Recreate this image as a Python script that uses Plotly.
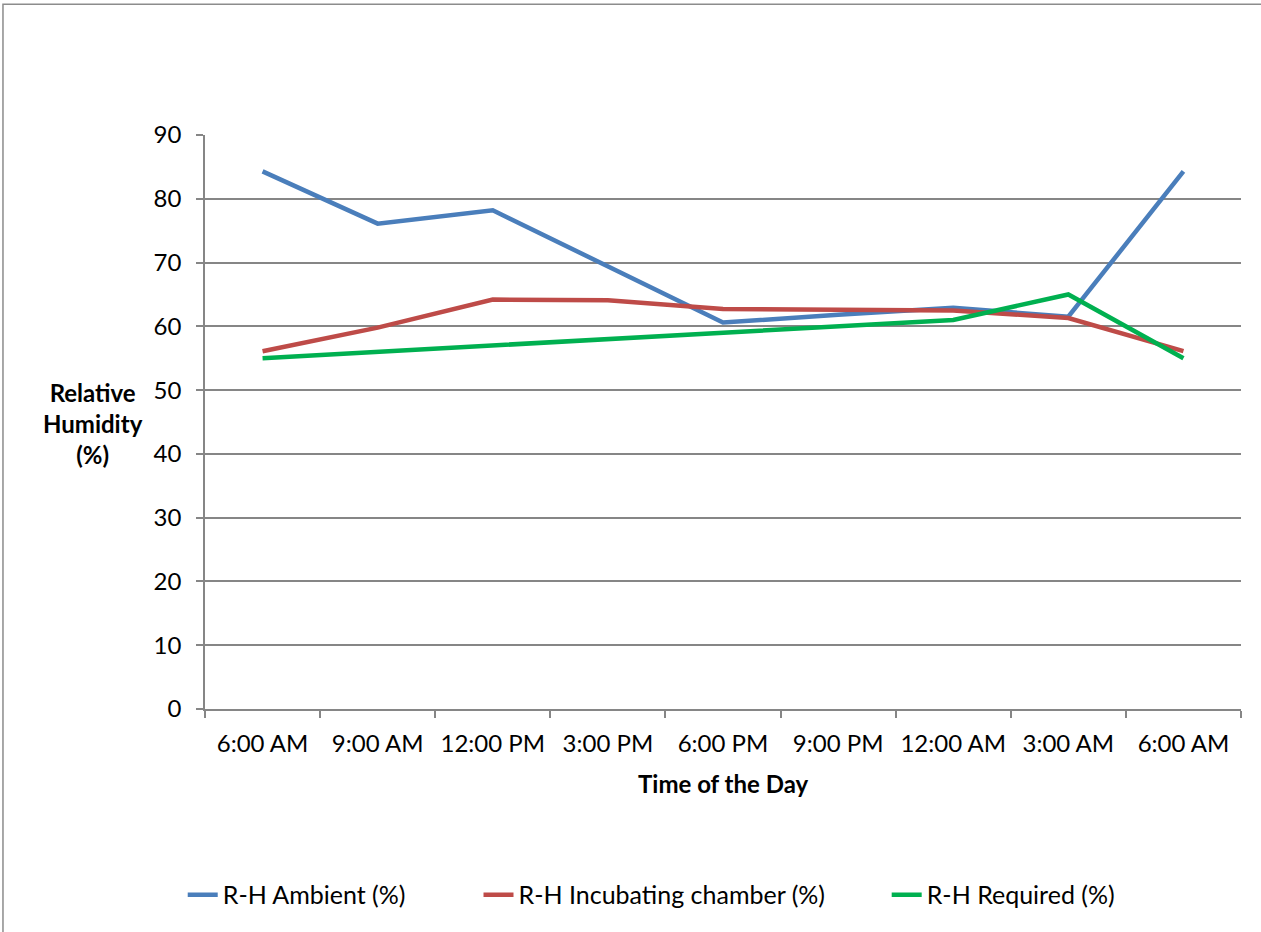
import plotly.graph_objects as go

# Time of day categories (one full day, 3-hour steps)
times = ["6:00 AM", "9:00 AM", "12:00 PM", "3:00 PM", "6:00 PM",
         "9:00 PM", "12:00 AM", "3:00 AM", "6:00 AM"]

rh_ambient = [84.3, 76.1, 78.2, 69.4, 60.6, 61.8, 62.9, 61.5, 84.3]
rh_chamber = [56.1, 59.8, 64.2, 64.1, 62.7, 62.6, 62.5, 61.3, 56.1]
rh_required = [55, 56, 57, 58, 59, 60, 61, 65, 55]

yticks = [0, 10, 20, 30, 40, 50, 60, 70, 80, 90]

FONT = "Lato"
FS = 24
GRID = "#868686"

x = list(range(len(times)))

# name, values, colour, legend id, legend x (paper)
series = [
    ("R-H Ambient (%)", rh_ambient, "#4a7ebb", "legend", -0.0215),
    ("R-H Incubating chamber (%)", rh_chamber, "#be4b48", "legend2", 0.264),
    ("R-H Required (%)", rh_required, "#00b050", "legend3", 0.658),
]

fig = go.Figure()
legends = {}
for name, vals, color, lg, lx in series:
    fig.add_trace(go.Scatter(
        x=x, y=vals, name=name, mode="lines",
        line=dict(color=color, width=4.5), legend=lg,
    ))
    legends[lg] = dict(
        x=lx, xanchor="left", y=-0.324, yanchor="middle",
        font=dict(family=FONT, size=25), bgcolor="rgba(0,0,0,0)",
    )

fig.update_layout(
    width=1261, height=932,
    margin=dict(l=205, r=20, t=135, b=223),
    paper_bgcolor="white", plot_bgcolor="white",
    font=dict(family=FONT, size=FS, color="black"),
    showlegend=True,
    xaxis=dict(
        range=[-0.5, len(times) - 0.5],
        tickvals=x, ticktext=times, ticks="",
        showgrid=False, zeroline=False,
        showline=True, linecolor=GRID, linewidth=1.5,
        ticklabelstandoff=12,
        minor=dict(tickvals=[i - 0.5 for i in range(len(times) + 1)],
                   ticks="outside", ticklen=7, tickcolor=GRID, tickwidth=1.5,
                   showgrid=False),
    ),
    yaxis=dict(
        range=[0, 90], tickvals=yticks,
        showgrid=True, gridcolor=GRID, gridwidth=1.5,
        zeroline=False,
        showline=True, linecolor=GRID, linewidth=1.5,
        ticks="outside", ticklen=7, tickcolor=GRID, tickwidth=1.5,
        ticklabelstandoff=10,
    ),
    annotations=[
        dict(text="<b>Relative<br>Humidity<br>(%)</b>", xref="paper", yref="paper",
             x=-0.108, y=0.498, xanchor="center", yanchor="middle",
             showarrow=False, align="center", font=dict(family=FONT, size=FS)),
        dict(text="<b>Time of the Day</b>", xref="paper", yref="paper",
             x=0.5, y=-0.129, xanchor="center", yanchor="middle",
             showarrow=False, font=dict(family=FONT, size=FS)),
    ],
    shapes=[
        dict(type="rect", xref="paper", yref="paper",
             x0=-0.195, x1=1.2, y0=-0.6, y1=1.228,
             line=dict(color="#8c8c8c", width=1.5), fillcolor="rgba(0,0,0,0)",
             layer="below"),
    ],
)
fig.update_layout(**legends)

fig.write_html("out.html")
